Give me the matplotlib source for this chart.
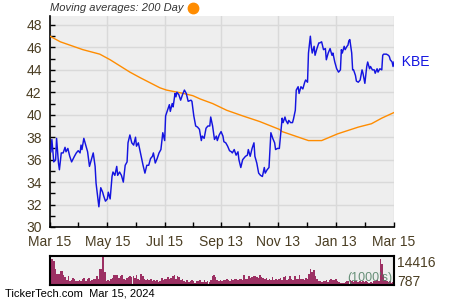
import numpy as np
import matplotlib
matplotlib.use("Agg")
import matplotlib.pyplot as plt
from matplotlib.lines import Line2D

plt.rcParams['font.family'] = ['Liberation Sans', 'DejaVu Sans']

# ---- data ----
start = np.datetime64('2023-03-15')
tick_labels = ['Mar 15', 'May 15', 'Jul 15', 'Sep 13', 'Nov 13', 'Jan 13', 'Mar 15']
tick_dates = ['2023-03-15', '2023-05-15', '2023-07-15', '2023-09-13',
              '2023-11-13', '2024-01-13', '2024-03-15']

price_day = [1, 2, 4, 6, 7, 9, 10, 12, 14, 16,
             17, 19, 21, 23, 26, 28, 30, 32, 33, 34,
             36, 38, 40, 42, 44, 46, 48, 49, 52, 54,
             56, 57, 59, 61, 62, 64, 66, 67, 69, 71,
             72, 74, 76, 78, 80, 82, 83, 85, 87, 89,
             91, 92, 94, 96, 99, 101, 103, 105, 107, 109,
             110, 112, 114, 116, 118, 120, 122, 123, 125, 127,
             128, 130, 131, 133, 134, 135, 137, 139, 141, 143,
             145, 147, 150, 151, 153, 155, 157, 159, 161, 162,
             164, 166, 168, 170, 171, 173, 175, 177, 178, 180,
             182, 184, 185, 187, 189, 191, 193, 194, 196, 198,
             200, 201, 203, 205, 206, 208, 210, 211, 213, 215,
             217, 218, 220, 222, 224, 226, 228, 229, 231, 233,
             235, 237, 239, 240, 242, 244, 247, 248, 250, 251,
             253, 254, 256, 258, 259, 261, 262, 264, 265, 267,
             269, 271, 272, 274, 275, 277, 278, 279, 281, 282,
             284, 286, 287, 289, 291, 293, 294, 296, 298, 300,
             301, 303, 305, 307, 309, 310, 311, 313, 314, 316,
             317, 318, 319, 321, 322, 323, 325, 326, 328, 330,
             332, 333, 335, 337, 338, 340, 341, 343, 345, 346,
             348, 349, 351, 353, 354, 355, 358, 360, 361, 362,
             364, 365, 366]
price_val = [36.7, 37.8, 35.8, 36.0, 37.9, 35.7, 35.1, 36.6, 36.6, 37.1,
             36.7, 37.0, 36.3, 35.8, 36.3, 36.6, 36.8, 36.6, 37.3, 36.9,
             37.9, 37.3, 36.7, 35.4, 36.0, 36.6, 35.4, 33.9, 31.8, 33.5,
             33.1, 32.8, 32.3, 32.5, 33.1, 32.5, 34.5, 34.9, 34.6, 35.4,
             34.6, 34.9, 34.6, 34.0, 35.5, 35.8, 37.5, 38.2, 37.5, 37.3,
             38.0, 37.2, 37.5, 36.7, 35.5, 34.8, 35.5, 35.5, 36.1, 36.3,
             36.6, 35.7, 36.1, 36.6, 36.9, 38.4, 37.7, 39.9, 40.4, 40.9,
             40.3, 41.0, 40.7, 41.9, 41.6, 42.0, 41.8, 41.3, 41.8, 42.2,
             41.9, 41.2, 41.3, 41.2, 39.9, 39.0, 38.9, 38.7, 37.7, 38.1,
             37.9, 38.8, 39.0, 39.0, 39.8, 39.0, 37.8, 38.1, 37.7, 38.2,
             38.5, 38.1, 37.6, 37.5, 37.2, 36.8, 36.7, 36.6, 36.9, 36.4,
             36.7, 36.0, 35.3, 36.0, 36.1, 36.3, 36.4, 36.9, 36.3, 37.0,
             37.5, 36.3, 35.7, 34.8, 34.6, 34.5, 35.3, 34.8, 35.1, 35.3,
             38.4, 37.9, 37.5, 36.9, 37.0, 37.0, 39.7, 39.3, 39.8, 39.5,
             39.2, 39.5, 39.3, 39.3, 39.6, 40.4, 42.2, 42.5, 41.9, 42.5,
             42.3, 42.9, 43.1, 42.9, 45.5, 47.0, 46.1, 45.5, 46.1, 45.3,
             45.9, 46.4, 46.4, 46.5, 45.8, 45.9, 44.9, 45.5, 45.9, 45.3,
             45.5, 44.7, 44.1, 43.8, 44.0, 45.8, 45.5, 46.1, 45.8, 46.1,
             46.2, 46.6, 46.7, 45.5, 44.0, 44.0, 43.5, 43.0, 42.9, 43.1,
             44.0, 43.7, 42.8, 44.3, 44.7, 44.1, 44.3, 44.0, 44.0, 43.7,
             44.1, 43.8, 44.1, 44.0, 45.3, 45.4, 45.4, 45.3, 45.2, 44.9,
             44.7, 44.3, 44.7]

ma_day = [0, 11, 35, 53, 64, 85, 96, 117, 124, 142, 152, 160, 173,
          188, 205, 223, 244, 247, 275, 289, 306, 328, 342, 353, 366]
ma_val = [47.0, 46.5, 45.8, 45.4, 44.9, 43.8, 43.3, 42.4, 42.2, 41.9, 41.7, 41.4, 41.0,
          40.4, 39.9, 39.4, 38.7, 38.5, 37.7, 37.7, 38.3, 38.9, 39.2, 39.7, 40.2]

# volume in thousands of shares
volume = [12830, 12830, 11820, 8070, 5620, 5620, 6780, 6780, 5190, 4040,
          2310, 4470, 1870, 2310, 3460, 2880, 1870, 1870, 2310, 1870,
          2880, 3460, 2160, 3170, 3460, 2160, 2310, 2880, 3170, 4470,
          2880, 7780, 7780, 14416, 6490, 1870, 2310, 1870, 2880, 3460,
          5190, 4760, 5190, 3460, 4470, 4760, 3170, 2310, 3460, 4040,
          4470, 4040, 4470, 3460, 5190, 3170, 2310, 5620, 4470, 2880,
          2310, 2880, 2310, 2880, 1870, 2310, 1870, 2310, 1440, 2160,
          3460, 2310, 2880, 3170, 4040, 2880, 3460, 4470, 5190, 3170,
          4470, 4040, 2310, 2880, 1870, 1440, 2310, 1440, 1870, 2310,
          1870, 1150, 1870, 1870, 2310, 1440, 1440, 2310, 1440, 1870,
          1440, 2310, 4470, 4760, 4040, 2310, 1870, 2310, 1870, 2310,
          2310,
          2880, 2310, 1870, 2880, 2310, 2880, 3170, 2310, 3170, 2880,
          2310, 4760, 2880, 3170, 4470, 3460, 4040, 4470, 4470, 4040,
          3460, 4760, 4040, 3460, 3170, 3460, 2310, 2880, 2310, 4040,
          2310, 2880, 2310, 2880, 3460, 2310, 4040, 4470, 2310, 3170,
          4470, 2880, 2310, 4470, 2880, 2880, 5190, 3170, 2880, 2310,
          3460, 3170, 5620, 8070, 6490, 7350, 4470, 2880, 1870, 1870,
          1440, 1870, 1870, 2310, 1440, 2310, 2880, 2310, 2310, 2880,
          1870, 1440, 1150, 1150, 1150, 1440, 1870, 1870, 2310, 1870,
          1440, 1870, 1870, 1440, 1870, 1440, 1870, 1440, 1870, 1440,
          1150, 1440, 1150, 1870, 1870, 2310, 1870, 12830, 10670, 4760,
          2310, 1870, 1440, 1870, 1150, 1440]
vol_max_label = '14416'
vol_min_label = '787'
ticker = 'KBE'

# ---- drawing ----
txt_col = '#4a3d22'
bg = '#eeeeee'
grid_col = '#d9d9d9'

fig = plt.figure(figsize=(4.5, 3.0), dpi=100)
ax = fig.add_axes([50/450, 1-227/300, 344/450, 211/300])
ax.set_facecolor(bg)

pd_dates = start + np.array(price_day).astype('timedelta64[D]')
ma_dates = start + np.array(ma_day).astype('timedelta64[D]')
ax.plot(ma_dates, ma_val, color='#ff8c00', lw=1.0, zorder=3)
ax.plot(pd_dates, price_val, color='#1414e0', lw=1.05, zorder=4)

x0 = start
x1 = np.datetime64('2024-03-15')
ax.set_xlim(x0, x1)
ax.set_ylim(30, 48.8)
tds = [np.datetime64(d) for d in tick_dates]
ax.set_xticks(tds)
ax.set_xticklabels(tick_labels)
mids = [tds[i] + (tds[i+1]-tds[i])//2 for i in range(len(tds)-1)]
ax.set_xticks(mids, minor=True)
ax.set_yticks(np.arange(30, 49, 2))
ax.set_yticks(np.arange(31, 49, 2), minor=True)
ax.tick_params(which='both', direction='in', length=3.5, width=1, color='black',
               labelcolor=txt_col, labelsize=10)
ax.tick_params(axis='x', pad=6)
ax.tick_params(axis='y', pad=6)
ax.grid(True, which='major', color=grid_col, lw=1)
ax.set_axisbelow(True)
for s in ['top', 'right']:
    ax.spines[s].set_visible(False)
for s in ['left', 'bottom']:
    ax.spines[s].set_linewidth(1.2)

ax.text(pd_dates[-1], price_val[-1], '  ' + ticker, color='#1414e0', fontsize=10,
        va='center', ha='left', clip_on=False)

fig.text(50/450, 1-8/300, 'Moving averages: 200 Day', fontsize=8, style='italic',
         color='#333333', ha='left', va='center')
fig.add_artist(Line2D([193/450], [1-7.5/300], marker='o', markersize=7.5,
                      color='#ff8c00', linestyle='none', transform=fig.transFigure))

# volume panel
axv = fig.add_axes([50/450, 1-285/300, 344/450, 29/300])
axv.set_facecolor(bg)
n = len(volume)
vdays = np.linspace(1, 365, n)
w = (365 - 1) / (n - 1)
axv.bar(start + (vdays * 24).astype('timedelta64[h]'), volume,
        width=w, color='#9c3063', linewidth=0)
axv.set_xlim(x0, x1)
axv.set_ylim(0, 14416)
axv.set_xticks([])
axv.set_yticks([])
for s in axv.spines.values():
    s.set_linewidth(1.5)
axv.text(1.01, 0.77, vol_max_label, transform=axv.transAxes, fontsize=10,
         color=txt_col, va='center', ha='left')
axv.text(1.01, 0.12, vol_min_label, transform=axv.transAxes, fontsize=10,
         color=txt_col, va='center', ha='left')
axv.text(0.995, 0.02, "(1000's)", transform=axv.transAxes, fontsize=9,
         color='#4f7f63', alpha=0.85, va='bottom', ha='right')

fig.text(5/450, 1-294/300, 'TickerTech.com  Mar 15, 2024', fontsize=8,
         color='black', ha='left', va='center')

fig.savefig('out.png', dpi=100)
